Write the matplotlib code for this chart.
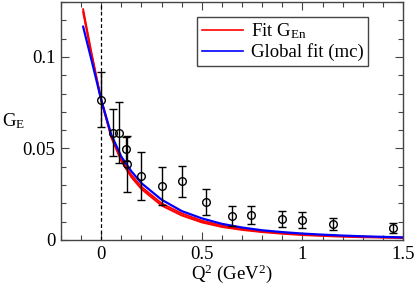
import matplotlib
matplotlib.use('Agg')
import matplotlib.pyplot as plt
from matplotlib.ticker import MultipleLocator, FuncFormatter
from matplotlib.lines import Line2D

plt.rcParams['font.family'] = ['Liberation Serif', 'DejaVu Serif']
plt.rcParams['mathtext.fontset'] = 'custom'
plt.rcParams['mathtext.rm'] = 'Liberation Serif'
plt.rcParams['mathtext.it'] = 'Liberation Serif:italic'
plt.rcParams['font.size'] = 13.5

# data points (Q^2, G_E, error)
q2_data = [0.0, 0.06, 0.09, 0.125, 0.128, 0.2, 0.3, 0.4, 0.523, 0.649, 0.747, 0.90, 1.0, 1.15, 1.45]
ge_data = [0.0765, 0.0587, 0.0587, 0.0495, 0.0413, 0.0349, 0.0296, 0.0320, 0.0206,
           0.0131, 0.0135, 0.0115, 0.0109, 0.0087, 0.0064]
ge_err = [0.015, 0.013, 0.0165, 0.0065, 0.0153, 0.0131, 0.0104, 0.0085, 0.0072,
          0.0055, 0.0050, 0.0043, 0.0045, 0.0031, 0.0026]

# fit curves
q2_fit = [-0.09, -0.05, 0.0, 0.05, 0.1, 0.15, 0.2, 0.3, 0.4, 0.5, 0.6, 0.7, 0.8,
          0.9, 1.0, 1.1, 1.2, 1.3, 1.4, 1.5]
fit_gen_hi = [0.1260, 0.1030, 0.0765, 0.0568, 0.0440, 0.0355, 0.0290, 0.0200, 0.0145,
              0.0105, 0.0079, 0.0061, 0.0048, 0.0038, 0.0031, 0.0026, 0.0021, 0.0018, 0.0015, 0.0013]
fit_gen_lo = [0.1245, 0.1020, 0.0762, 0.0560, 0.0430, 0.0343, 0.0278, 0.0188, 0.0134,
              0.0096, 0.0071, 0.0055, 0.0043, 0.0034, 0.0027, 0.0022, 0.0018, 0.0015, 0.0013, 0.0011]
global_fit = [0.1165, 0.0990, 0.0765, 0.0575, 0.0455, 0.0375, 0.0310, 0.0220, 0.0158,
              0.0118, 0.0088, 0.0068, 0.0053, 0.0043, 0.0035, 0.0029, 0.0024, 0.0020, 0.0017, 0.0014]

fig = plt.figure(figsize=(4.15, 2.85), dpi=100)
ax = fig.add_axes([0.147, 0.158, 0.824, 0.835])

ax.axvline(0, color='black', ls='--', lw=0.9, dashes=(3, 2))
ax.plot(q2_fit, fit_gen_hi, color='red', lw=1.4)
ax.plot(q2_fit, fit_gen_lo, color='red', lw=1.4)
ax.plot(q2_fit, global_fit, color='blue', lw=1.6)
ax.errorbar(q2_data, ge_data, yerr=ge_err, fmt='o', mfc='none', mec='black', color='black',
            ms=5.5, mew=1, elinewidth=1, capsize=3, capthick=1)

ax.set_xlim(-0.2, 1.5)
ax.set_ylim(0, 0.13)
ax.xaxis.set_major_locator(MultipleLocator(0.5))
ax.xaxis.set_minor_locator(MultipleLocator(0.1))
ax.yaxis.set_major_locator(MultipleLocator(0.05))
ax.yaxis.set_minor_locator(MultipleLocator(0.01))
fmt = FuncFormatter(lambda v, p: '%g' % round(v, 3))
ax.xaxis.set_major_formatter(fmt)
ax.yaxis.set_major_formatter(fmt)
ax.tick_params(which='both', direction='in', top=True, right=True, width=0.8, color='#444444')
ax.tick_params(which='major', length=6, pad=4)
ax.tick_params(which='minor', length=3.5)
for s in ax.spines.values():
    s.set_color('#444444')
    s.set_linewidth(1)

ax.set_ylabel(r'G$_{\mathrm{E}}$', rotation=0, ha='center', va='center')
ax.yaxis.set_label_coords(-0.14, 0.50)
ax.set_xlabel(r'Q$^{2}$ (GeV$^{2}$)', ha='center', va='center')
ax.xaxis.set_label_coords(0.5, -0.14)

handles = [Line2D([], [], color='red', lw=1.2), Line2D([], [], color='blue', lw=1.2)]
leg = ax.legend(handles, [r'Fit G$_{\mathrm{En}}$', 'Global fit (mc)'],
                loc='upper left', bbox_to_anchor=(0.398, 0.937), fancybox=False,
                framealpha=1, edgecolor='#444444', borderpad=0.25, labelspacing=0.1,
                handlelength=2.2, handletextpad=0.4, borderaxespad=0)
leg.get_frame().set_linewidth(1)

fig.savefig('out.png', dpi=100)
